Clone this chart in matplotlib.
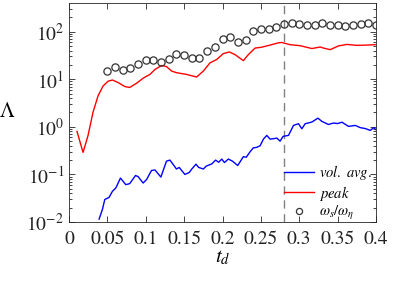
import numpy as np
import matplotlib
matplotlib.use("Agg")
import matplotlib.pyplot as plt

plt.rcParams['font.family'] = ['STIXGeneral', 'DejaVu Serif']
plt.rcParams['mathtext.fontset'] = 'stix'

# omega_s / omega_eta (circles)
t_circ = [0.05, 0.06, 0.07, 0.08, 0.09, 0.10, 0.11, 0.12, 0.13, 0.14, 0.15, 0.16,
          0.17, 0.18, 0.19, 0.20, 0.21, 0.22, 0.23, 0.24, 0.25, 0.26, 0.27, 0.28,
          0.29, 0.30, 0.31, 0.32, 0.33, 0.34, 0.35, 0.36, 0.37, 0.38, 0.39, 0.40]
w_ratio = [14.9, 18.3, 15.8, 16.9, 21, 25, 25, 23.5, 26.8, 34, 32.9, 27.2,
           28, 39, 47, 70, 76, 59, 65, 105, 114, 112, 127, 144,
           153, 142, 135, 135, 149, 137, 135, 131, 137, 146, 149, 140]

# peak
t_peak = [0.0104, 0.0183, 0.0248, 0.0313, 0.0379, 0.0444, 0.051, 0.0566, 0.064, 0.0727,
          0.079, 0.088, 0.0966, 0.1054, 0.112, 0.1206, 0.127, 0.1337, 0.14, 0.153,
          0.1663, 0.175, 0.1837, 0.1924, 0.201, 0.2089, 0.2163, 0.2272, 0.2337, 0.2424,
          0.2512, 0.262, 0.2729, 0.2773, 0.288, 0.3012, 0.3165, 0.3273, 0.3316, 0.3403,
          0.3512, 0.362, 0.375, 0.388, 0.399]
peak = [0.80, 0.29, 0.66, 2.03, 4.5, 7.2, 9.1, 9.6, 8.5, 7.0,
        6.7, 8.2, 10.5, 12.6, 16, 19.4, 18.4, 14.8, 13.7, 12.6,
        11.1, 14.8, 22, 25.9, 34.4, 37.3, 32.8, 24.5, 32.8, 45,
        47, 52, 58, 59, 53, 50.5, 44, 47.4, 45, 41.7,
        50, 53.7, 51.3, 52, 53]

# volume average
t_vol = [0.0392, 0.0436, 0.0466, 0.0522, 0.0566, 0.061, 0.067, 0.074, 0.079, 0.0867,
         0.09, 0.0966, 0.101, 0.1075, 0.112, 0.1197, 0.127, 0.1315, 0.140, 0.1436,
         0.151, 0.1567, 0.16, 0.1654, 0.169, 0.175, 0.179, 0.186, 0.191, 0.195,
         0.199, 0.2025, 0.2076, 0.213, 0.2198, 0.2272, 0.231, 0.236, 0.240, 0.2445,
         0.249, 0.2533, 0.2577, 0.262, 0.2685, 0.2708, 0.275, 0.279, 0.286, 0.2925,
         0.299, 0.3034, 0.3077, 0.3165, 0.3243, 0.3295, 0.338, 0.3447, 0.35, 0.3556,
         0.3642, 0.373, 0.3795, 0.386, 0.3926, 0.397, 0.4]
vol = [0.0115, 0.0186, 0.0297, 0.033, 0.0443, 0.052, 0.0838, 0.061, 0.064, 0.095,
       0.09, 0.066, 0.078, 0.121, 0.124, 0.088, 0.19, 0.2, 0.13, 0.14,
       0.1, 0.11, 0.13, 0.164, 0.14, 0.13, 0.15, 0.166, 0.2, 0.18,
       0.21, 0.178, 0.21, 0.19, 0.154, 0.236, 0.23, 0.3, 0.36, 0.37,
       0.40, 0.55, 0.66, 0.55, 0.57, 0.58, 0.5, 0.63, 0.66, 1.07,
       1.16, 0.91, 1.16, 1.26, 1.52, 1.3, 1.12, 1.2, 1.17, 1.25,
       1.02, 1.07, 0.96, 0.92, 0.84, 0.96, 0.87]

t_mark = 0.28
xticks = [0, 0.05, 0.1, 0.15, 0.2, 0.25, 0.3, 0.35, 0.4]
xticklabels = ["0", "0.05", "0.1", "0.15", "0.2", "0.25", "0.3", "0.35", "0.4"]

fig = plt.figure(figsize=(4.15, 2.88), dpi=100)
ax = fig.add_axes([0.1663, 0.229, 0.7397, 0.7606])

axcol = '#262626'
ax.axvline(t_mark, color='#808080', lw=1.0, ls=(0, (6, 4)), zorder=1)
ax.plot(t_vol, vol, color=(0, 0, 1), lw=1.0, label=r'$vol.\ avg.$')
ax.plot(t_peak, peak, color=(1, 0, 0), lw=1.0, label=r'$peak$')
ax.plot(t_circ, w_ratio, 'o', mfc='none', mec='#333333', ms=5.2, mew=0.9,
        label=r'$\omega_s/\omega_\eta$')

ax.set_yscale('log')
ax.set_xlim(0, 0.4)
ax.set_ylim(1e-2, 398)
ax.set_xticks(xticks)
ax.set_xticklabels(xticklabels)
ax.set_yticks([1e-2, 1e-1, 1e0, 1e1, 1e2])
ax.set_yticklabels([r'$10^{-2}$', r'$10^{-1}$', r'$10^{0}$', r'$10^{1}$', r'$10^{2}$'])
ax.tick_params(which='both', direction='in', top=True, right=True, colors=axcol,
               labelsize=14, labelcolor='#222222', width=0.6)
ax.tick_params(which='major', length=4)
ax.tick_params(which='minor', length=2)
ax.tick_params(axis='x', pad=6)
for s in ax.spines.values():
    s.set_color(axcol)
    s.set_linewidth(0.6)

ax.set_xlabel(r'$t_d$', fontsize=15, labelpad=0)
ax.set_ylabel(r'$\Lambda$', fontsize=15, rotation=0, labelpad=14, va='center')

leg = ax.legend(loc='lower right', bbox_to_anchor=(1.0, -0.02), frameon=False,
                fontsize=10.5, handlelength=2.1, handletextpad=0.3,
                labelspacing=0.1, borderaxespad=0.0, borderpad=0.3, markerscale=0.85)

fig.savefig('out.png', dpi=100)
